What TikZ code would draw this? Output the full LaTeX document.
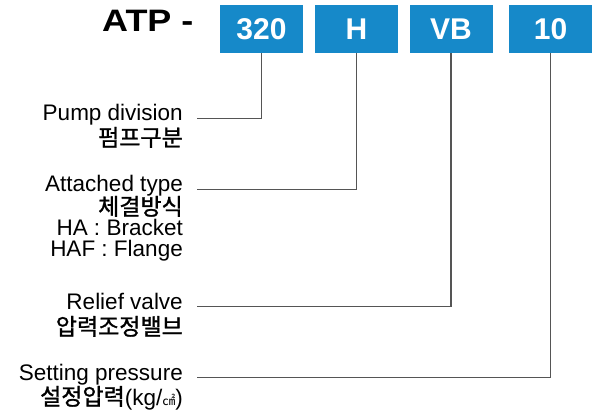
\documentclass[tikz,border=0pt]{standalone}
\usepackage{fontspec}
\setmainfont{Liberation Sans}
\newfontfamily\kr{Noto Sans CJK KR}[FakeBold=1.2]
\newfontfamily\krn{Noto Sans CJK KR}
\definecolor{boxblue}{RGB}{22,137,201}
\definecolor{lncol}{RGB}{85,85,85}
\begin{document}
\begin{tikzpicture}[x=1pt,y=-1pt,
  box/.style={fill=boxblue,draw=none,minimum width=83pt,minimum height=48pt,inner sep=0pt,
    text=white,font=\fontsize{30}{30}\selectfont\bfseries},
  lbl/.style={anchor=base east,inner sep=0pt,font=\fontsize{22.5}{24}\selectfont},
  kor/.style={anchor=base east,inner sep=0pt,text height=16pt,text depth=2pt,font=\fontsize{23}{24}\selectfont\kr},
  conn/.style={draw=lncol,line width=1.5pt}]
\useasboundingbox (0,0) rectangle (600,414);
\node[anchor=base west,inner sep=0pt,font=\fontsize{31}{31}\selectfont\bfseries] (atp) at (102,32) {\scalebox{1.16}[1]{ATP -}};
\node[box] (b320) at (261.5,29) {320};
\node[box] (bH) at (356.5,29) {H};
\node[box] (bVB) at (451,29) {VB};
\node[box] (b10) at (550.5,29) {10};
% labels
\node[lbl] (pump) at (183,121) {Pump division};
\node[kor] (pumpk) at (183,146) {펌프구분};
\node[lbl] (att) at (183,192) {Attached type};
\node[kor] (attk) at (183,215) {체결방식};
\node[lbl] (ha) at (183,235.5) {HA : Bracket};
\node[lbl] (haf) at (183,257) {HAF : Flange};
\node[lbl] (rel) at (183,309) {Relief valve};
\node[kor] (relk) at (183,335) {압력조정밸브};
\node[lbl] (set) at (183,380) {Setting pressure};
\node[kor] (setk) at (183,405) {설정압력{\rmfamily\fontsize{22.5}{24}\selectfont (kg/}{\krn\fontsize{13}{13}\selectfont ㎠}{\rmfamily\fontsize{22.5}{24}\selectfont )}};
% connectors
\draw[conn] ([xshift=14pt]pump.mid east) -| (b320.south);
\draw[conn] ([xshift=14pt]att.mid east) -| (bH.south);
\draw[conn] ([xshift=14pt]rel.mid east) -| (bVB.south);
\draw[conn] ([xshift=14pt]set.mid east) -| (b10.south);
\end{tikzpicture}
\end{document}
